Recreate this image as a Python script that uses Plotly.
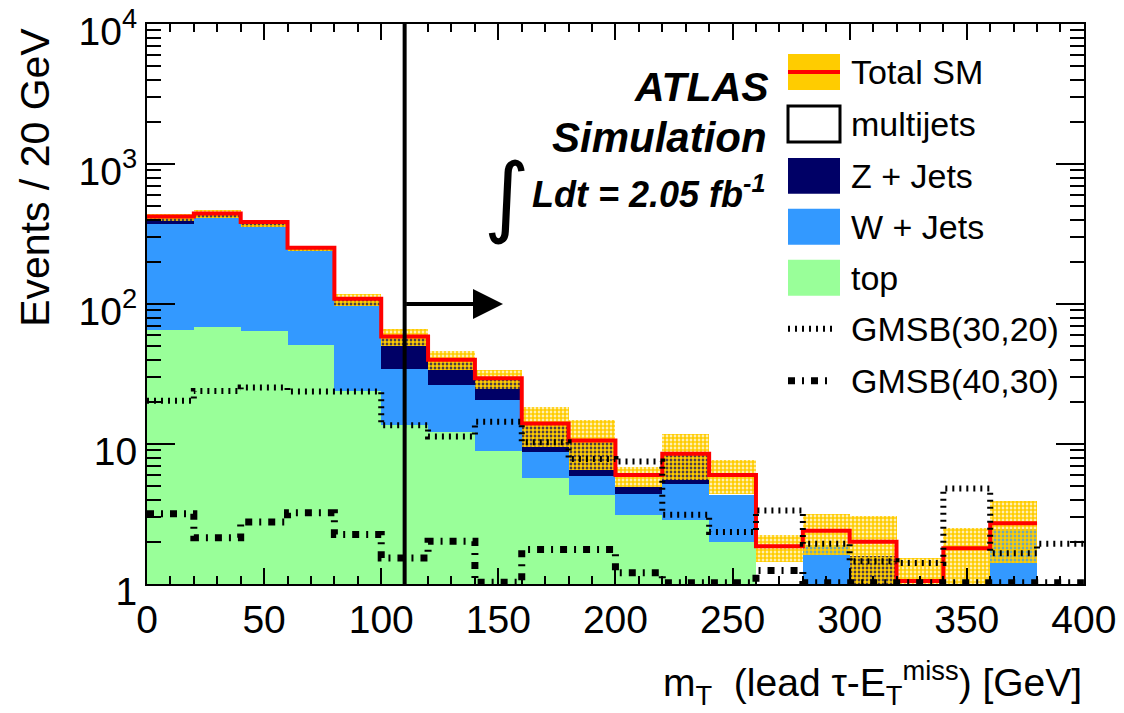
import plotly.graph_objects as go

# ---------------- data ----------------
bin_edges = list(range(0, 420, 20))          # 20 GeV bins, 0..400
top_mc    = [65.5, 69, 64.4, 51, 23.9, 13.6, 12.2, 8.9, 5.75, 4.34,
             3.12, 2.87, 1.99, 0.3, 0.3, 0.3, 0.3, 0.3, 0.3, 0.3]
wjets     = [304.5, 344, 290.6, 188, 72.1, 20.6, 14.2, 11.7, 3.05, 1.54,
             1.3, 2.34, 2.31, 0.0, 1.6, 0.2, 0.0, 0.0, 2.15, 0.0]
zjets     = [51, 31, 30, 13, 13, 24.3, 13.6, 8.9, 5.2, 4.72,
             0.52, 3.29, 0.0, 0.0, 0.0, 1.08, 0.0, 0.7, 0.0, 0.0]
multijets = [0, 0, 0, 0, 0, 0, 0, 0, 0, 0,
             1.06, 0, 1.7, 1.56, 0.5, 0.42, 0.75, 0.8, 0.27, 0.0]
band_lo   = [392, 413, 355, 239, 96, 49.8, 33.7, 24.6, 9.5, 6.47,
             4.94, 5.5, 4.41, 1.43, 1.6, 0.9, 0.6, 0.9, 1.42, None]
band_hi   = [437, 467, 396, 259, 117, 66.5, 46.2, 33.7, 18.3, 14.8,
             6.86, 11.7, 7.66, 2.24, 3.18, 3.05, 1.53, 2.51, 3.9, None]
gmsb_30_20 = [20.4, 23.9, 25.3, 23.7, 23.7, 13.6, 11.3, 14.4, 10.3, 7.8,
              7.5, 3.12, 2.35, 3.35, 1.94, 1.45, 1.41, 4.8, 1.66, 1.94]
gmsb_40_30 = [3.18, 2.14, 2.77, 3.23, 2.26, 1.53, 2.02, 1.03, 1.76, 1.76,
              1.2, 1.02, 1.02, 1.25, 1.02, 1.02, 1.02, 1.02, 1.02, 1.02]
ytick_vals = [1, 10, 100, 1000, 10000]
ytick_text = ["1", "10", "10<sup>2</sup>", "10<sup>3</sup>", "10<sup>4</sup>"]
xtick_vals = [0, 50, 100, 150, 200, 250, 300, 350, 400]
cut_value = 110

GREEN, BLUE, NAVY, ORANGE = "#99ff99", "#3399ff", "#000066", "#ffcc00"
FONT = "Liberation Sans, Arial, sans-serif"

centers = [(a + b) / 2 for a, b in zip(bin_edges[:-1], bin_edges[1:])]
total = [a + b + c + d for a, b, c, d in zip(top_mc, wjets, zjets, multijets)]
base_w = top_mc
base_z = [a + b for a, b in zip(top_mc, wjets)]
base_m = [a + b for a, b in zip(base_z, zjets)]


def steps(vals, vmin=1.0):
    xs, ys = [], []
    for i, v in enumerate(vals):
        if v is None or v < vmin:
            if xs and xs[-1] is not None:
                xs.append(None); ys.append(None)
            continue
        xs += [bin_edges[i], bin_edges[i + 1]]
        ys += [v, v]
    return xs, ys


fig = go.Figure()
nol = dict(width=0)
fig.add_bar(x=centers, y=top_mc, width=20, marker=dict(color=GREEN, line=nol),
            name="top", showlegend=False)
fig.add_bar(x=centers, y=wjets, base=base_w, width=20, marker=dict(color=BLUE, line=nol),
            name="W + Jets", showlegend=False)
fig.add_bar(x=centers, y=zjets, base=base_z, width=20, marker=dict(color=NAVY, line=nol),
            name="Z + Jets", showlegend=False)
fig.add_bar(x=centers, y=multijets, base=base_m, width=20, marker=dict(color="white", line=nol),
            name="multijets", showlegend=False)

band_h = [None if lo is None else hi - lo for lo, hi in zip(band_lo, band_hi)]
fig.add_bar(x=centers, y=band_h, base=band_lo, width=20,
            marker=dict(color="rgba(0,0,0,0)", line=nol,
                        pattern=dict(shape=".", fgcolor=ORANGE, bgcolor="rgba(0,0,0,0)",
                                     size=4, solidity=0.75, fillmode="replace")),
            name="SM uncertainty", showlegend=False)

sx, sy = steps(total)
fig.add_scatter(x=sx, y=sy, mode="lines", line=dict(color="#ff0000", width=4),
                name="Total SM", showlegend=False)
gx, gy = steps(gmsb_30_20)
fig.add_scatter(x=gx, y=gy, mode="lines", line=dict(color="black", width=6, dash="2px,5px"),
                name="GMSB(30,20)", showlegend=False)
hx, hy = steps(gmsb_40_30)
fig.add_scatter(x=hx, y=hy, mode="lines",
                line=dict(color="black", width=7, dash="7px,7px,2px,7px"),
                name="GMSB(40,30)", showlegend=False)

# cut line and arrow
fig.add_shape(type="line", xref="x", yref="paper", x0=cut_value, x1=cut_value, y0=0, y1=1,
              line=dict(color="black", width=4))
fig.add_annotation(x=152, y=2, ax=cut_value, ay=2, xref="x", yref="y", axref="x", ayref="y",
                   text="", showarrow=True, arrowhead=2, arrowsize=1.5, arrowwidth=4,
                   arrowcolor="black")

# geometry helpers for decorations (paper coordinates)
L, R, T, B = 147, 1084, 24, 584.5
def px(x):
    return (x - L) / (R - L)
def py(y):
    return (B - y) / (B - T)

# ATLAS label
fig.add_annotation(xref="paper", yref="paper", x=px(771), y=py(87), xanchor="right", yanchor="middle",
                   text="<b><i>ATLAS</i></b>", showarrow=False, font=dict(family=FONT, size=41, color="black"))
fig.add_annotation(xref="paper", yref="paper", x=px(769), y=py(138), xanchor="right", yanchor="middle",
                   text="<b><i>Simulation</i></b>", showarrow=False, font=dict(family=FONT, size=42, color="black"))
fig.add_annotation(xref="paper", yref="paper", x=px(767), y=py(192), xanchor="right", yanchor="middle",
                   text="<b><i>Ldt = 2.05 fb<sup>-1</sup></i></b>", showarrow=False,
                   font=dict(family=FONT, size=36, color="black"))
fig.add_annotation(xref="paper", yref="paper", x=px(507), y=py(196), xanchor="center", yanchor="middle",
                   text="∫", showarrow=False, font=dict(family="DejaVu Sans, sans-serif", size=88, color="black"))

# legend (drawn manually to match the ROOT style)
legend_rows = [
    ("Total SM", "band"), ("multijets", "white"), ("Z + Jets", NAVY),
    ("W + Jets", BLUE), ("top", GREEN), ("GMSB(30,20)", "dot"), ("GMSB(40,30)", "dashdot"),
]
row_y = [72, 124, 176, 227, 278, 329, 381]
for (label, kind), yc in zip(legend_rows, row_y):
    x0, x1 = px(788), px(840)
    y0, y1 = py(yc + 18), py(yc - 18)
    if kind == "band":
        fig.add_shape(type="rect", xref="paper", yref="paper", x0=x0, x1=x1, y0=y0, y1=y1,
                      fillcolor=ORANGE, line=dict(width=0))
        fig.add_shape(type="line", xref="paper", yref="paper", x0=x0, x1=x1, y0=py(yc), y1=py(yc),
                      line=dict(color="#ff0000", width=4))
    elif kind == "white":
        fig.add_shape(type="rect", xref="paper", yref="paper", x0=x0, x1=x1, y0=y0, y1=y1,
                      fillcolor="white", line=dict(color="black", width=3))
    elif kind == "dot":
        fig.add_shape(type="line", xref="paper", yref="paper", x0=px(788), x1=px(833), y0=py(yc), y1=py(yc),
                      line=dict(color="black", width=6, dash="2px,5px"))
    elif kind == "dashdot":
        fig.add_shape(type="line", xref="paper", yref="paper", x0=px(788), x1=px(833), y0=py(yc), y1=py(yc),
                      line=dict(color="black", width=7, dash="7px,7px,2px,7px"))
    else:
        fig.add_shape(type="rect", xref="paper", yref="paper", x0=x0, x1=x1, y0=y0, y1=y1,
                      fillcolor=kind, line=dict(width=0))
    fig.add_annotation(xref="paper", yref="paper", x=px(849), y=py(yc), xanchor="left", yanchor="middle",
                       text=label, showarrow=False, font=dict(family=FONT, size=34, color="black"))

# axis titles
fig.add_annotation(xref="paper", yref="paper", x=1.0, y=py(684), xanchor="right", yanchor="middle",
                   text="m<sub>T</sub>  (lead τ-E<sub>T</sub><sup>miss</sup>) [GeV]", showarrow=False,
                   font=dict(family=FONT, size=39, color="black"))
fig.add_annotation(xref="paper", yref="paper", x=px(35), y=py(178), xanchor="center", yanchor="middle",
                   textangle=-90, text="Events / 20 GeV", showarrow=False,
                   font=dict(family=FONT, size=41, color="black"))

fig.update_layout(
    width=1124, height=713,
    margin=dict(l=L, r=1124 - R, t=T, b=713 - B, autoexpand=False),
    paper_bgcolor="white", plot_bgcolor="white",
    barmode="overlay", bargap=0, showlegend=False,
    font=dict(family=FONT, color="black"),
)
fig.update_xaxes(
    range=[0, 400.05], showgrid=False, zeroline=False, automargin=False,
    showline=True, linecolor="black", linewidth=2, mirror="allticks",
    ticks="inside", ticklen=16, tickwidth=2, tickcolor="black",
    tickmode="array", tickvals=xtick_vals, ticklabeloverflow="allow",
    tickfont=dict(family=FONT, size=39, color="black"),
    minor=dict(ticks="inside", ticklen=8, tickwidth=2, tickcolor="black", dtick=10, tick0=0, showgrid=False),
)
fig.update_yaxes(
    type="log", range=[-0.0003, 4.0003], showgrid=False, zeroline=False, automargin=False,
    showline=True, linecolor="black", linewidth=2, mirror="allticks",
    ticks="inside", ticklen=28, tickwidth=2, tickcolor="black",
    tickmode="array", tickvals=ytick_vals, ticktext=ytick_text, ticklabeloverflow="allow",
    ticklabelshift=7,
    tickfont=dict(family=FONT, size=39, color="black"),
    minor=dict(ticks="inside", ticklen=14, tickwidth=2, tickcolor="black", tickmode="array",
               tickvals=[m * 10 ** d for d in range(4) for m in range(2, 10)], showgrid=False),
)

fig.write_html("out.html")
